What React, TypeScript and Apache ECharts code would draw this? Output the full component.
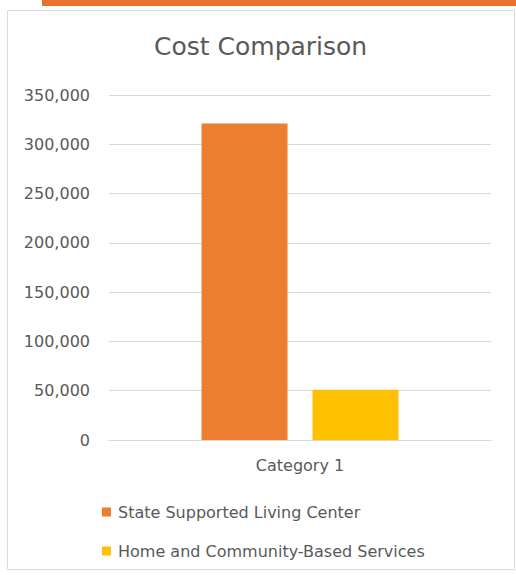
import React, { useEffect, useRef } from "react";
import * as echarts from "echarts";

const categories = ["Category 1"];
const seriesNames = ["State Supported Living Center", "Home and Community-Based Services"];
const seriesValues = [[321000], [51000]];
const seriesColors = ["#ED7D31", "#FFC000"];
const yTicks = { min: 0, max: 350000, interval: 50000 };

const FONT = "DejaVu Sans";
const GRAY = "#595959";

export default function App() {
  const ref = useRef<HTMLDivElement>(null);
  useEffect(() => {
    if (!ref.current) return;
    const chart = echarts.init(ref.current, undefined, { renderer: "svg" });
    chart.setOption({
      animation: false,
      backgroundColor: "#ffffff",
      title: {
        text: "Cost Comparison",
        left: 154,
        top: 34,
        padding: 0,
        textStyle: { fontFamily: FONT, fontSize: 25, fontWeight: "normal", color: GRAY },
      },
      graphic: [
        { type: "rect", shape: { x: 42, y: 0, width: 474, height: 6 }, style: { fill: "#E8722C" }, z: 10 },
        {
          type: "rect",
          shape: { x: 7.5, y: 10.5, width: 507, height: 559 },
          style: { fill: "none", stroke: "#D9D9D9", lineWidth: 1 },
          z: 0,
        },
      ],
      grid: { left: 109, right: 25, top: 95, bottom: 135 },
      xAxis: {
        type: "category",
        data: categories,
        axisLine: { lineStyle: { color: "#D9D9D9", width: 1 } },
        axisTick: { show: false },
        axisLabel: { fontFamily: FONT, fontSize: 16, color: GRAY, margin: 17 },
      },
      yAxis: {
        type: "value",
        min: yTicks.min,
        max: yTicks.max,
        interval: yTicks.interval,
        axisLine: { show: false },
        axisTick: { show: false },
        splitLine: { lineStyle: { color: "#D9D9D9", width: 1 } },
        axisLabel: {
          fontFamily: FONT,
          fontSize: 16,
          color: GRAY,
          margin: 19,
          formatter: (v: number) => v.toLocaleString("en-US"),
        },
      },
      legend: {
        orient: "vertical",
        left: 102,
        top: 502,
        padding: 0,
        itemWidth: 9,
        itemHeight: 9,
        itemGap: 19,
        icon: "rect",
        textStyle: { fontFamily: FONT, fontSize: 16, color: GRAY, lineHeight: 20, padding: [0, 0, 0, 2] },
        data: seriesNames,
      },
      series: seriesNames.map((name, i) => ({
        name,
        type: "bar",
        data: seriesValues[i],
        barWidth: 86,
        barGap: "29%",
        itemStyle: { color: seriesColors[i] },
      })),
    });
    return () => chart.dispose();
  }, []);
  return (
    <div
      ref={ref}
      style={{ position: "fixed", left: 0, top: 0, width: 516, height: 575 }}
    />
  );
}
